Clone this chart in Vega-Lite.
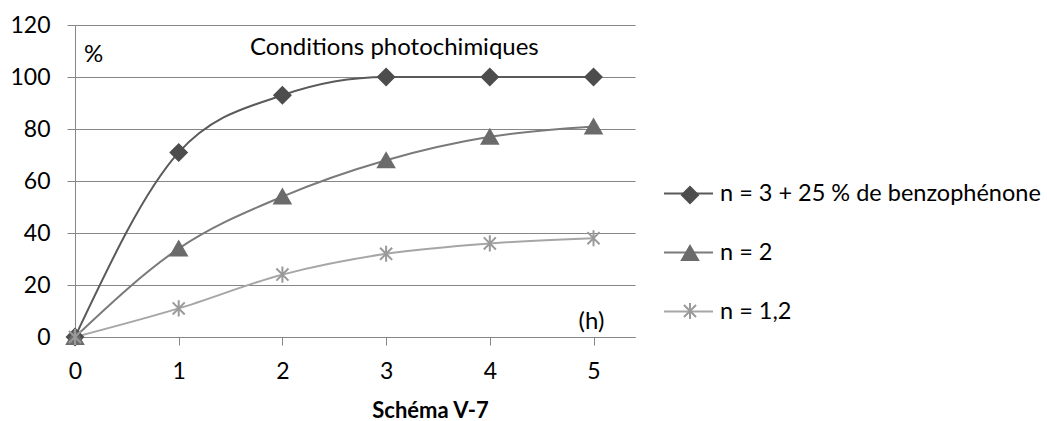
{
  "$schema": "https://vega.github.io/schema/vega-lite/v6.json",
  "width": 560,
  "height": 312,
  "autosize": {"type": "none"},
  "padding": {"left": 75, "top": 25, "right": 412, "bottom": 84},
  "background": "white",
  "config": {
    "view": {"stroke": null},
    "font": "Lato",
    "axis": {"labelFont": "Lato", "titleFont": "Lato"},
    "legend": {"labelFont": "Lato"}
  },
  "datasets": {
    "main": [
      {"h": 0, "pct": 0, "series": "n = 3 + 25 % de benzophénone"},
      {"h": 1, "pct": 71, "series": "n = 3 + 25 % de benzophénone"},
      {"h": 2, "pct": 93, "series": "n = 3 + 25 % de benzophénone"},
      {"h": 3, "pct": 100, "series": "n = 3 + 25 % de benzophénone"},
      {"h": 4, "pct": 100, "series": "n = 3 + 25 % de benzophénone"},
      {"h": 5, "pct": 100, "series": "n = 3 + 25 % de benzophénone"},
      {"h": 0, "pct": 0, "series": "n = 2"},
      {"h": 1, "pct": 34, "series": "n = 2"},
      {"h": 2, "pct": 54, "series": "n = 2"},
      {"h": 3, "pct": 68, "series": "n = 2"},
      {"h": 4, "pct": 77, "series": "n = 2"},
      {"h": 5, "pct": 81, "series": "n = 2"},
      {"h": 0, "pct": 0, "series": "n = 1,2"},
      {"h": 1, "pct": 11, "series": "n = 1,2"},
      {"h": 2, "pct": 24, "series": "n = 1,2"},
      {"h": 3, "pct": 32, "series": "n = 1,2"},
      {"h": 4, "pct": 36, "series": "n = 1,2"},
      {"h": 5, "pct": 38, "series": "n = 1,2"}
    ],
    "notes": [
      {"h": 0.18, "pct": 108.5, "note": "%"},
      {"h": 3.08, "pct": 111.2, "note": "Conditions photochimiques"},
      {"h": 4.98, "pct": 5.8, "note": "(h)"}
    ]
  },
  "layer": [
    {
      "data": {"name": "main"},
      "mark": {"type": "line", "interpolate": "monotone", "strokeWidth": 2},
      "encoding": {
        "x": {
          "field": "h", "type": "quantitative",
          "scale": {"domain": [0, 5.4], "nice": false, "zero": false},
          "axis": {
            "values": [0, 1, 2, 3, 4, 5], "format": "d", "grid": false, "labelFlush": false,
            "domainColor": "#868686", "tickColor": "#868686", "tickSize": 8,
            "labelFontSize": 23, "labelColor": "#000", "labelPadding": 15,
            "title": "Schéma V-7", "titleFontSize": 22, "titleFontWeight": "bold",
            "titleColor": "#000", "titleX": 355, "titleY": 73, "titleAnchor": null,
            "titleAlign": "center", "titleBaseline": "middle"
          }
        },
        "y": {
          "field": "pct", "type": "quantitative",
          "scale": {"domain": [0, 120], "nice": false},
          "axis": {
            "values": [0, 20, 40, 60, 80, 100, 120], "grid": true,
            "gridColor": "#868686", "gridOpacity": 1, "gridWidth": 1,
            "domainColor": "#868686", "tickColor": "#868686", "tickSize": 8,
            "labelFontSize": 23, "labelColor": "#000", "labelPadding": 17,
            "title": null
          }
        },
        "color": {
          "field": "series", "type": "nominal",
          "sort": ["n = 3 + 25 % de benzophénone", "n = 2", "n = 1,2"],
          "scale": {"range": ["#5a5a5a", "#7a7a7a", "#a6a6a6"]},
          "legend": {
            "orient": "none", "legendX": 588, "legendY": 143, "title": null,
            "symbolType": "stroke", "symbolSize": 2401, "symbolStrokeWidth": 2,
            "labelFontSize": 23.5, "labelColor": "#000", "labelLimit": 500,
            "labelOffset": 6, "rowPadding": 22, "padding": 0
          }
        }
      }
    },
    {
      "data": {"name": "main"},
      "mark": {"type": "point", "filled": true, "opacity": 1, "size": 260, "strokeWidth": 2},
      "encoding": {
        "x": {"field": "h", "type": "quantitative"},
        "y": {"field": "pct", "type": "quantitative"},
        "shape": {
          "field": "series", "type": "nominal",
          "scale": {
            "domain": ["n = 3 + 25 % de benzophénone", "n = 2", "n = 1,2"],
            "range": ["diamond", "triangle-up", "M0,-1L0,1M-0.75,-0.75L0.75,0.75M-0.75,0.75L0.75,-0.75"]
          },
          "legend": {
            "orient": "none", "legendX": 604, "legendY": 159, "title": null,
            "symbolSize": 260, "symbolStrokeWidth": 2, "symbolOpacity": 1,
            "labelFontSize": 22, "labelExpr": "''", "labelLimit": 500,
            "labelOffset": 6, "rowPadding": 34, "padding": 0
          }
        },
        "fill": {
          "field": "series", "type": "nominal",
          "scale": {
            "domain": ["n = 3 + 25 % de benzophénone", "n = 2", "n = 1,2"],
            "range": ["#4d4d4d", "#6b6b6b", "#9a9a9a"]
          }
        },
        "stroke": {
          "field": "series", "type": "nominal",
          "scale": {
            "domain": ["n = 3 + 25 % de benzophénone", "n = 2", "n = 1,2"],
            "range": ["#4d4d4d", "#6b6b6b", "#9a9a9a"]
          }
        }
      }
    },
    {
      "data": {"name": "notes"},
      "mark": {"type": "text", "fontSize": 24, "color": "#000", "align": "center", "baseline": "middle"},
      "encoding": {
        "x": {"field": "h", "type": "quantitative"},
        "y": {"field": "pct", "type": "quantitative"},
        "text": {"field": "note", "type": "nominal"}
      }
    }
  ]
}
